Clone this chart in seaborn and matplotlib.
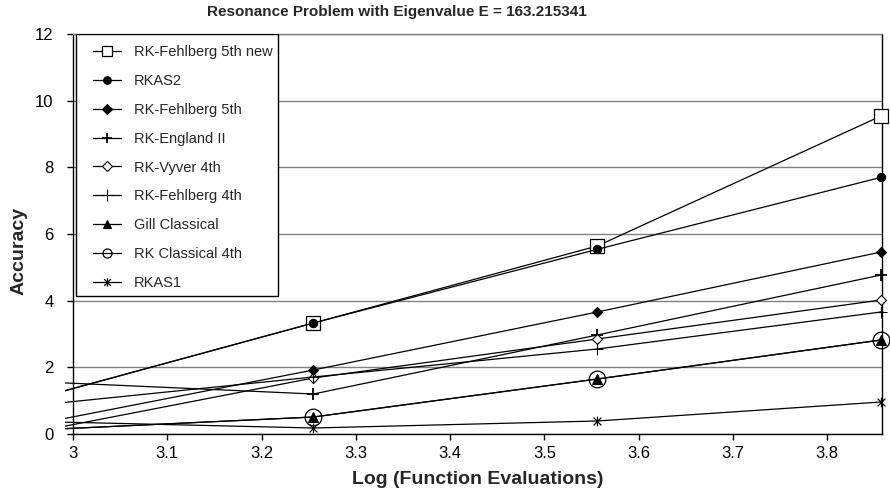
import matplotlib
matplotlib.use("Agg")
import matplotlib.pyplot as plt
import seaborn as sns
from matplotlib.path import Path
from matplotlib.patches import Rectangle
from matplotlib.transforms import Bbox, TransformedBbox

# ---------------- data ----------------
log_evals = [2.954, 3.255, 3.556, 3.857]
series_names = ["RK-Fehlberg 5th new", "RKAS2", "RK-Fehlberg 5th", "RK-England II",
                "RK-Vyver 4th", "RK-Fehlberg 4th", "Gill Classical",
                "RK Classical 4th", "RKAS1"]
fehlberg5_new = [1.01, 3.33, 5.64, 9.54]
rkas2 = [1.01, 3.33, 5.54, 7.70]
fehlberg5 = [0.26, 1.92, 3.66, 5.46]
england2 = [1.58, 1.20, 2.97, 4.77]
vyver4 = [0.03, 1.68, 2.85, 4.02]
fehlberg4 = [0.84, 1.71, 2.55, 3.66]
gill = [0.11, 0.51, 1.65, 2.82]
rk4 = [0.11, 0.51, 1.65, 2.82]
rkas1 = [0.38, 0.18, 0.39, 0.96]
y_ticks = [0, 2, 4, 6, 8, 10, 12]
x_ticks = [3.0, 3.1, 3.2, 3.3, 3.4, 3.5, 3.6, 3.7, 3.8]
title = "Resonance Problem with Eigenvalue E = 163.215341"
x_label = "Log (Function Evaluations)"
y_label = "Accuracy"

all_series = [fehlberg5_new, rkas2, fehlberg5, england2, vyver4,
              fehlberg4, gill, rk4, rkas1]

# ---------------- style ----------------
sns.set_style("ticks")
plt.rcParams["font.family"] = ["Liberation Sans", "DejaVu Sans"]

star = Path([(-1, -1), (1, 1), (-1, 1), (1, -1), (0, -1.25), (0, 1.25)],
            [Path.MOVETO, Path.LINETO, Path.MOVETO, Path.LINETO,
             Path.MOVETO, Path.LINETO])

marker_styles = [
    dict(marker="s", markersize=9.5, markerfacecolor="white", markeredgewidth=0.9),
    dict(marker="o", markersize=6, markerfacecolor="black", markeredgewidth=0.8),
    dict(marker="D", markersize=5.5, markerfacecolor="black", markeredgewidth=0.8),
    dict(marker="+", markersize=9, markeredgewidth=1.3),
    dict(marker="D", markersize=5, markerfacecolor="white", markeredgewidth=0.8),
    dict(marker="+", markersize=9, markeredgewidth=0.8),
    dict(marker="^", markersize=7, markerfacecolor="black", markeredgewidth=0.8),
    dict(marker="o", markersize=12, markerfacecolor="none", markeredgewidth=0.9),
    dict(marker=star, markersize=7, markeredgewidth=0.9),
]
legend_marker_sizes = [6.5, 5.5, 5.5, 7, 5, 8, 6, 6.5, 6]

fig = plt.figure(figsize=(8.9, 4.98), dpi=100)
ax = fig.add_axes([73 / 890, 1 - 434 / 498, 809 / 890, 400 / 498])

for name, vals, ms in zip(series_names, all_series, marker_styles):
    sns.lineplot(x=log_evals, y=vals, ax=ax, color="black", linewidth=0.9,
                 label=name, markeredgecolor="black", zorder=3, **ms)

ax.set_xlim(3.0, 3.858)
ax.set_ylim(0, 12)
ax.set_xticks(x_ticks)
ax.set_xticklabels([f"{t:g}" for t in x_ticks])
ax.set_yticks(y_ticks)
ax.set_yticklabels([str(t) for t in y_ticks])
ax.yaxis.grid(True, color="#808080", linewidth=1.0)
ax.xaxis.grid(False)
ax.set_axisbelow(True)

for s in ["left", "bottom", "right"]:
    ax.spines[s].set_color("black")
    ax.spines[s].set_linewidth(1.0)
    ax.spines[s].set_visible(True)
ax.spines["top"].set_visible(True)
ax.spines["top"].set_color("#808080")
ax.spines["top"].set_linewidth(1.0)

ax.tick_params(axis="y", direction="out", length=4, width=1, pad=10,
               labelsize=12, colors="black")
ax.tick_params(axis="x", direction="out", length=4, width=1, pad=5,
               labelsize=12, colors="black")

ax.set_xlabel(x_label, fontsize=14, fontweight="bold")
ax.set_ylabel(y_label, fontsize=14, fontweight="bold")
ax.xaxis.set_label_coords(0.5, -0.093)
ax.yaxis.set_label_coords(-0.056, 0.4575)

fig.text(397 / 890, 1 - 12 / 498, title, ha="center", va="center",
         fontsize=11, fontweight="bold")

# lines extend slightly past the plot area, as in the original
clip = TransformedBbox(Bbox([[-0.0105, -0.02], [1.012, 1.0]]), ax.transAxes)
for ln in ax.lines:
    if ln.get_label() in series_names:
        ln.set_clip_box(clip)

# legend box
ax.add_patch(Rectangle((3 / 809, (434 - 296) / 400), 202 / 809, 262 / 400,
                       transform=ax.transAxes, facecolor="white",
                       edgecolor="black", linewidth=1.0, zorder=5))
handles, labels = ax.get_legend_handles_labels()
leg = ax.legend(handles, labels, loc="upper left",
                bbox_to_anchor=(20 / 809, (434 - 45) / 400),
                frameon=False, fontsize=10.5, borderpad=0, borderaxespad=0,
                handlelength=1.9, handletextpad=0.9, labelspacing=1.02)
leg.set_zorder(6)
for h, size in zip(leg.legend_handles, legend_marker_sizes):
    h.set_markersize(size)

fig.savefig("out.png", dpi=100)
